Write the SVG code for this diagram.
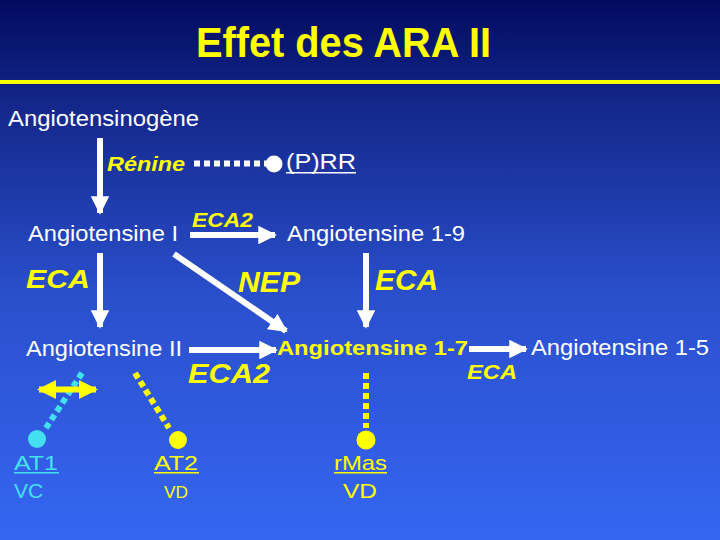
<svg xmlns="http://www.w3.org/2000/svg" width="720" height="540" viewBox="0 0 720 540">
<defs>
<linearGradient id="bg" x1="0" y1="0" x2="0" y2="1">
<stop offset="0" stop-color="#020a5e"/>
<stop offset="0.2" stop-color="#14288c"/>
<stop offset="0.55" stop-color="#2a4fcc"/>
<stop offset="1" stop-color="#3566f2"/>
</linearGradient>
<marker id="ah" viewBox="0 0 10 10" refX="9" refY="5" markerWidth="3.1" markerHeight="3.1" markerUnits="strokeWidth" orient="auto">
<path d="M0,0 L10,5 L0,10 Z" fill="#ffffff"/>
</marker>
<marker id="yh" viewBox="0 0 10 10" refX="9" refY="5" markerWidth="3.2" markerHeight="3.2" markerUnits="strokeWidth" orient="auto-start-reverse">
<path d="M0,0 L10,5 L0,10 Z" fill="#ffff00"/>
</marker>
</defs>
<style>
text{font-family:"Liberation Sans",Arial,sans-serif}
.w{fill:#ffffff;font-size:22px}
.y{fill:#ffff00}
.c{fill:#44e0f0}
.bi{font-weight:bold;font-style:italic}
.arr{stroke:#ffffff;stroke-width:6;fill:none;marker-end:url(#ah)}
</style>
<rect x="0" y="0" width="720" height="540" fill="url(#bg)"/>
<rect x="0" y="80" width="720" height="4" fill="#ffff00"/>
<text x="196" y="57" class="y" font-size="43" font-weight="bold" textLength="295" lengthAdjust="spacingAndGlyphs">Effet des ARA II</text>

<g id="connectors">
<line class="arr" x1="100" y1="138" x2="100" y2="213"/>
<line class="arr" x1="100" y1="253" x2="100" y2="327"/>
<line class="arr" x1="190" y1="235" x2="275" y2="235"/>
<line class="arr" x1="366" y1="253" x2="366" y2="327"/>
<line class="arr" x1="174" y1="254" x2="286" y2="331"/>
<line class="arr" x1="189" y1="350" x2="276" y2="350"/>
<line class="arr" x1="469" y1="349" x2="526" y2="349"/>
<line x1="194" y1="163.5" x2="266" y2="163.5" stroke="#ffffff" stroke-width="6" stroke-dasharray="6 4"/>
<circle cx="274" cy="164" r="8.5" fill="#ffffff"/>
<line x1="82" y1="373" x2="46" y2="428" stroke="#44e0f0" stroke-width="6" stroke-dasharray="6 4"/>
<circle cx="37" cy="439" r="9" fill="#44e0f0"/>
<line x1="135" y1="373" x2="169" y2="428" stroke="#ffff00" stroke-width="6" stroke-dasharray="6 4"/>
<circle cx="178" cy="440" r="9" fill="#ffff00"/>
<line x1="366" y1="373" x2="366" y2="428" stroke="#ffff00" stroke-width="6" stroke-dasharray="6 4"/>
<circle cx="366" cy="440" r="9.5" fill="#ffff00"/>
<line x1="39" y1="389.5" x2="96" y2="389.5" stroke="#ffff00" stroke-width="6" marker-start="url(#yh)" marker-end="url(#yh)"/>
</g>

<g id="angiotensinogene"><text x="8" y="126" class="w" textLength="191" lengthAdjust="spacingAndGlyphs">Angiotensinogène</text></g>
<g id="renine"><text x="107" y="171" class="y bi" font-size="21" textLength="78" lengthAdjust="spacingAndGlyphs">Rénine</text></g>
<g id="prr"><text x="286" y="169" class="w" font-size="20" textLength="70" lengthAdjust="spacingAndGlyphs">(P)RR</text><rect x="286" y="172" width="70" height="1.5" fill="#ffffff"/></g>
<g id="ang1"><text x="28" y="241" class="w" textLength="150" lengthAdjust="spacingAndGlyphs">Angiotensine I</text></g>
<g id="eca2-top"><text x="192" y="227" class="y bi" font-size="21" textLength="61" lengthAdjust="spacingAndGlyphs">ECA2</text></g>
<g id="ang19"><text x="287" y="241" class="w" textLength="178" lengthAdjust="spacingAndGlyphs">Angiotensine 1-9</text></g>
<g id="eca-left"><text x="26" y="288" class="y bi" font-size="26" textLength="64" lengthAdjust="spacingAndGlyphs">ECA</text></g>
<g id="nep"><text x="238" y="292" class="y bi" font-size="29" textLength="62" lengthAdjust="spacingAndGlyphs">NEP</text></g>
<g id="eca-right"><text x="375" y="290" class="y bi" font-size="29" textLength="63" lengthAdjust="spacingAndGlyphs">ECA</text></g>
<g id="ang2"><text x="26" y="356" class="w" textLength="156" lengthAdjust="spacingAndGlyphs">Angiotensine II</text></g>
<g id="eca2-mid"><text x="188" y="383" class="y bi" font-size="28" textLength="82" lengthAdjust="spacingAndGlyphs">ECA2</text></g>
<g id="ang17"><text x="277" y="355" class="y" font-size="21" font-weight="bold" textLength="191" lengthAdjust="spacingAndGlyphs">Angiotensine 1-7</text></g>
<g id="eca-17"><text x="467" y="379" class="y bi" font-size="20" textLength="50" lengthAdjust="spacingAndGlyphs">ECA</text></g>
<g id="ang15"><text x="531" y="355" class="w" textLength="178" lengthAdjust="spacingAndGlyphs">Angiotensine 1-5</text></g>
<g id="at1"><text x="14" y="470" class="c" font-size="21" textLength="44" lengthAdjust="spacingAndGlyphs">AT1</text><rect x="14" y="472" width="45" height="1.5" fill="#44e0f0"/><text x="14" y="498" class="c" font-size="21">VC</text></g>
<g id="at2"><text x="154" y="470" class="y" font-size="21" textLength="44" lengthAdjust="spacingAndGlyphs">AT2</text><rect x="154" y="472" width="45" height="1.5" fill="#ffff00"/><text x="164" y="498" class="y" font-size="16" textLength="24" lengthAdjust="spacingAndGlyphs">VD</text></g>
<g id="rmas"><text x="334" y="470" class="y" font-size="21" textLength="53" lengthAdjust="spacingAndGlyphs">rMas</text><rect x="334" y="472" width="53" height="1.5" fill="#ffff00"/><text x="343" y="498" class="y" font-size="21" textLength="34" lengthAdjust="spacingAndGlyphs">VD</text></g>
</svg>
